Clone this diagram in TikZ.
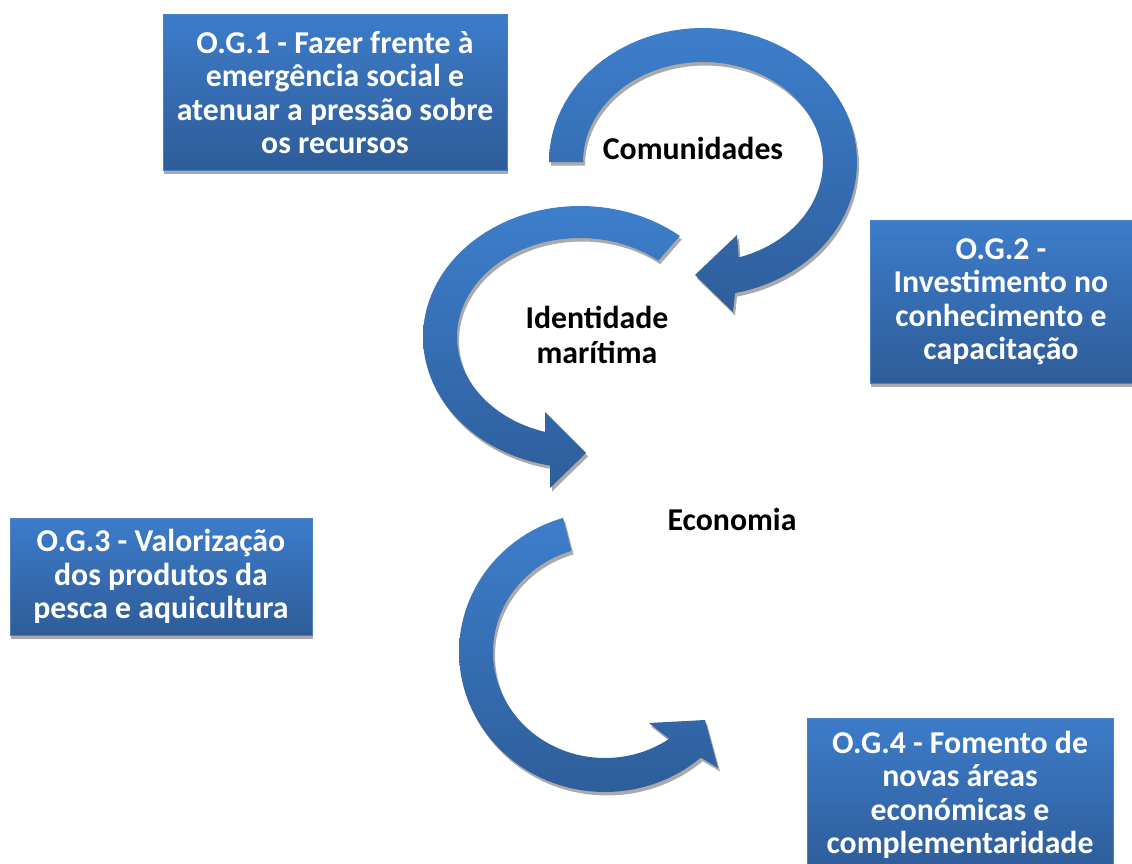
\documentclass[tikz,border=0pt]{standalone}
\usepackage{fontspec}
\setmainfont{Carlito}
\usetikzlibrary{shadows}
\definecolor{boxtop}{HTML}{3D7CCA}
\definecolor{boxbot}{HTML}{2E5C98}
\definecolor{boxline}{HTML}{4A80C4}
\definecolor{arrtop}{HTML}{3D7ECB}
\definecolor{arrbot}{HTML}{2E5E9B}
\definecolor{shadowgray}{HTML}{AAAAAA}
\tikzset{
  ogbox/.style={draw=boxline, line width=1pt, top color=boxtop, bottom color=boxbot,
    text=white, align=center, inner sep=0pt,
    font=\bfseries\fontsize{31.8}{33.5}\selectfont,
    general shadow={fill=shadowgray, shadow xshift=1pt, shadow yshift=-4pt}},
  lbl/.style={text=black, align=center, inner sep=0pt,
    font=\bfseries\fontsize{31.8}{35}\selectfont},
  arrshade/.style={top color=arrtop, bottom color=arrbot, draw=none},
  arrshadow/.style={fill=shadowgray, shift={(2,3.5)}}
}
\newcommand{\arrowOne}[1]{\path[#1]
  plot[domain=180:-78, samples=80] ({703+154*cos(\x)}, {162-134*sin(\x)})
  -- (733,312) -- (695,275) -- (737,235)
  -- plot[domain=-72.7:180, samples=80] ({703+120*cos(\x)}, {162-100*sin(\x)})
  -- cycle;}
\newcommand{\arrowTwo}[1]{\path[#1]
  plot[domain=50.5:259, samples=80] ({580+157*cos(\x)}, {337-131*sin(\x)})
  -- (550,488) -- (586,453) -- (545,412)
  -- plot[domain=253.5:50.5, samples=80] ({580+123*cos(\x)}, {337-99*sin(\x)})
  -- cycle;}
\newcommand{\arrowThree}[1]{\path[#1]
  plot[domain=106.7:311, samples=80] ({605+146*cos(\x)}, {652-140*sin(\x)})
  -- (718,768) -- (705,720) -- (649,723)
  -- plot[domain=305:107.4, samples=80] ({605+112*cos(\x)}, {652-106*sin(\x)})
  -- cycle;}
\begin{document}
\begin{tikzpicture}[x=1pt, y=-1pt]
\useasboundingbox (0,0) rectangle (1132,864);
\clip (0,0) rectangle (1132,864);
\fill[white] (0,0) rectangle (1132,864);

% arrows
\arrowOne{arrshadow}
\arrowOne{arrshade}
\arrowTwo{arrshadow}
\arrowTwo{arrshade}
\arrowThree{arrshadow}
\arrowThree{arrshade}

% labels
\node[lbl] (com) at (693,148) {Comunidades};
\node[lbl] (ide) at (597,335) {Identidade\\marítima};
\node[lbl] (eco) at (732,519) {Economia};

% boxes
\node[ogbox, minimum width=344pt, minimum height=155pt] (og1) at (335,92.5)
  {O.G.1 - Fazer frente à\\emergência social e\\atenuar a pressão sobre\\os recursos};
\node[ogbox, minimum width=262pt, minimum height=163pt] (og2) at (1001,301.5)
  {O.G.2 -\\Investimento no\\conhecimento e\\capacitação};
\node[ogbox, minimum width=302pt, minimum height=117pt] (og3) at (161,576.5)
  {O.G.3 - Valorização\\dos produtos da\\pesca e aquicultura};
\node[ogbox, minimum width=306pt, minimum height=154pt] (og4) at (960,795)
  {O.G.4 - Fomento de\\novas áreas\\económicas e\\complementaridade};
\end{tikzpicture}
\end{document}
